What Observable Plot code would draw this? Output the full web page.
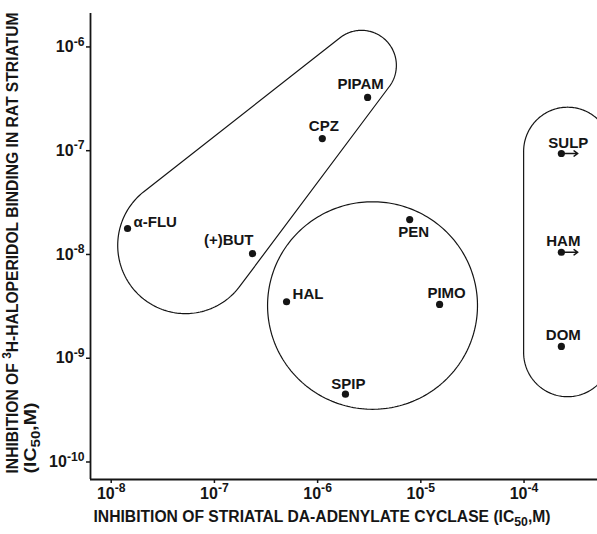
<!DOCTYPE html>
<html>
<head>
<meta charset="utf-8">
<script src="https://cdn.jsdelivr.net/npm/d3@7"></script>
<script src="https://cdn.jsdelivr.net/npm/@observablehq/plot@0.6"></script>
<style>
  html, body { margin: 0; padding: 0; background: #fff; overflow: hidden; }
</style>
</head>
<body>
<div id="chart"></div>
<script>
// Neuroleptic drugs: IC50 for striatal DA-sensitive adenylate cyclase (x)
// versus IC50 for 3H-haloperidol binding in rat striatum (y), both in M.
const drugs       = ["α-FLU", "(+)BUT", "CPZ",   "PIPAM", "HAL",  "PEN",   "PIMO",  "SPIP",   "SULP",  "HAM",   "DOM"];
const cyclaseIC50 = [1.44e-8, 2.34e-7,  1.11e-6, 3.05e-6, 5.0e-7, 7.8e-6,  1.52e-5, 1.86e-6,  2.3e-4,  2.3e-4,  2.3e-4];
const bindingIC50 = [1.78e-8, 1.02e-8,  1.31e-7, 3.26e-7, 3.5e-9, 2.17e-8, 3.3e-9,  4.5e-10,  9.4e-8,  1.05e-8, 1.30e-9];
// drugs whose cyclase IC50 is only a lower bound (drawn with an arrow)
const cyclaseLowerBound = ["SULP", "HAM"];

const xTicks = [1e-8, 1e-7, 1e-6, 1e-5, 1e-4];
const yTicks = [1e-10, 1e-9, 1e-8, 1e-7, 1e-6];

const xTitle  = "INHIBITION OF STRIATAL DA-ADENYLATE CYCLASE (IC_{50},M)";
const yTitle1 = "INHIBITION OF ^{3}H-HALOPERIDOL BINDING IN RAT STRIATUM";
const yTitle2 = "(IC_{50},M)";

// Group outlines, in decades (log10 units) of both axes.
const groupOutlines = {
  // butyrophenone / phenothiazine band: two circles joined by tangents
  tapered: {c1: [-7.28, -7.913], r1: 0.657, c2: [-5.575, -6.178], r2: 0.338},
  // diphenylbutylpiperidines etc.
  round:   {c: [-5.468, -8.492], rx: 1.017, ry: 1.0},
  // substituted benzamides etc.
  capsule: {c1: [-3.578, -8.945], r1: 0.426, c2: [-3.578, -7.007], r2: 0.426}
};

// Label placement around each dot (pixels)
const labelPlacement = {
  "α-FLU":  {anchor: "start",  dx: 6,   dy: -6},
  "(+)BUT": {anchor: "end",    dx: 1,   dy: -13},
  "CPZ":    {anchor: "middle", dx: 1.5, dy: -12},
  "PIPAM":  {anchor: "middle", dx: -7,  dy: -13.5},
  "HAL":    {anchor: "start",  dx: 6,   dy: -8},
  "PEN":    {anchor: "middle", dx: 4,   dy: 12.5},
  "PIMO":   {anchor: "middle", dx: 7,   dy: -11},
  "SPIP":   {anchor: "middle", dx: 3,   dy: -10},
  "SULP":   {anchor: "middle", dx: 7,   dy: -10.5},
  "HAM":    {anchor: "middle", dx: 2,   dy: -11},
  "DOM":    {anchor: "middle", dx: 2,   dy: -11}
};

const ink = "#151515";
const font = "'Liberation Sans', Arial, sans-serif";
const tickFontSize = 16;
const arrowFactor = 10 ** 0.16;

const table = drugs.map((name, i) => ({
  name,
  cyclase: cyclaseIC50[i],
  binding: bindingIC50[i],
  lowerBound: cyclaseLowerBound.includes(name)
}));

const fromLog = ([lx, ly]) => ({x: 10 ** lx, y: 10 ** ly});

// Outline enclosing two circles (convex hull of the pair)
function twoCircleHull({c1, r1, c2, r2}, n = 120) {
  const dx = c2[0] - c1[0], dy = c2[1] - c1[1];
  const d = Math.hypot(dx, dy);
  const beta = Math.atan2(dy, dx);
  const phi = Math.acos((r1 - r2) / d);
  const pts = [];
  for (let i = 0; i <= n; ++i) {
    const a = beta - phi + (2 * phi) * i / n;
    pts.push([c2[0] + r2 * Math.cos(a), c2[1] + r2 * Math.sin(a)]);
  }
  for (let i = 0; i <= n; ++i) {
    const a = beta + phi + (2 * Math.PI - 2 * phi) * i / n;
    pts.push([c1[0] + r1 * Math.cos(a), c1[1] + r1 * Math.sin(a)]);
  }
  pts.push(pts[0]);
  return pts.map(fromLog);
}

function ellipse({c, rx, ry}, n = 240) {
  return d3.range(n + 1).map(i => {
    const a = 2 * Math.PI * i / n;
    return fromLog([c[0] + rx * Math.cos(a), c[1] + ry * Math.sin(a)]);
  });
}

const xDomain = [6.30e-9, 5.15e-4];
const yDomain = [6.78e-11, 2.10e-6];
const tickFormat = d => `10^{${Math.round(Math.log10(d))}}`;

const labelMarks = table.map(d => {
  const p = labelPlacement[d.name];
  return Plot.text([d], {
    x: "cyclase", y: "binding", text: "name",
    textAnchor: p.anchor, dx: p.dx, dy: p.dy,
    fontSize: 15, fontWeight: "bold", fill: ink
  });
});

const chart = Plot.plot({
  width: 597,
  height: 534,
  marginLeft: 90,
  marginRight: 0,
  marginTop: 13,
  marginBottom: 55,
  style: {fontFamily: font, color: ink, background: "#fff"},
  x: {type: "log", domain: xDomain},
  y: {type: "log", domain: yDomain},
  marks: [
    Plot.line(twoCircleHull(groupOutlines.tapered), {x: "x", y: "y", stroke: ink, strokeWidth: 1.2}),
    Plot.line(ellipse(groupOutlines.round), {x: "x", y: "y", stroke: ink, strokeWidth: 1.2}),
    Plot.line(twoCircleHull(groupOutlines.capsule), {x: "x", y: "y", stroke: ink, strokeWidth: 1.2, clip: true}),
    Plot.ruleX([xDomain[0]], {stroke: ink, strokeWidth: 1.8}),
    Plot.ruleY([yDomain[0]], {stroke: ink, strokeWidth: 1.8}),
    Plot.axisX({
      anchor: "bottom", ticks: xTicks, tickFormat, tickSize: 4, tickPadding: 4,
      label: null, fontSize: tickFontSize, fontWeight: "bold", stroke: ink, strokeWidth: 1.5, fill: ink
    }),
    Plot.axisY({
      anchor: "left", ticks: yTicks, tickFormat, tickSize: 4, tickPadding: 2,
      label: null, fontSize: tickFontSize, fontWeight: "bold", stroke: ink, strokeWidth: 1.5, fill: ink
    }),
    Plot.dot(table, {x: "cyclase", y: "binding", r: 3.6, fill: ink}),
    Plot.arrow(table.filter(d => d.lowerBound), {
      x1: "cyclase", y1: "binding", x2: d => d.cyclase * arrowFactor, y2: "binding",
      stroke: ink, strokeWidth: 1.4, headLength: 5, headAngle: 70
    }),
    ...labelMarks,
    Plot.text([xTitle], {
      text: d => d, frameAnchor: "bottom-left", textAnchor: "start",
      dx: 3, dy: 42, fontSize: 16, fontWeight: "bold", fill: ink
    }),
    Plot.text([yTitle1], {
      text: d => d, frameAnchor: "bottom-left", textAnchor: "start", rotate: -90,
      dx: -73, dy: -6, fontSize: 16, fontWeight: "bold", fill: ink
    }),
    Plot.text([yTitle2], {
      text: d => d, frameAnchor: "bottom-left", textAnchor: "start", rotate: -90,
      dx: -55, dy: -6, fontSize: 16, fontWeight: "bold", fill: ink
    })
  ]
});

document.getElementById("chart").append(chart);

// Turn ^{..} and _{..} markup into raised / lowered tspans
const titleLengths = new Map([[xTitle, 457], [yTitle1, 461], [yTitle2, 71]]);
d3.select(chart).selectAll("text").each(function() {
  const el = this;
  const s = el.textContent;
  if (!/[\^_]\{/.test(s)) return;
  const fs = parseFloat(getComputedStyle(el).fontSize) || tickFontSize;
  const parts = s.split(/([\^_]\{[^}]*\})/).filter(p => p.length);
  el.textContent = "";
  let cur = 0;
  for (const part of parts) {
    let target = 0, text = part, size = null;
    if (part.startsWith("^{")) { target = -0.4 * fs; text = part.slice(2, -1); size = 0.76 * fs; }
    else if (part.startsWith("_{")) { target = 0.3 * fs; text = part.slice(2, -1); size = 0.78 * fs; }
    const t = d3.select(el).append("tspan").text(text);
    if (target - cur !== 0) t.attr("dy", (target - cur).toFixed(2));
    if (size) t.attr("font-size", size.toFixed(1)).style("font-size", size.toFixed(1) + "px");
    cur = target;
  }
  if (titleLengths.has(s)) {
    el.setAttribute("textLength", titleLengths.get(s));
    el.setAttribute("lengthAdjust", "spacingAndGlyphs");
  }
});
</script>
</body>
</html>
